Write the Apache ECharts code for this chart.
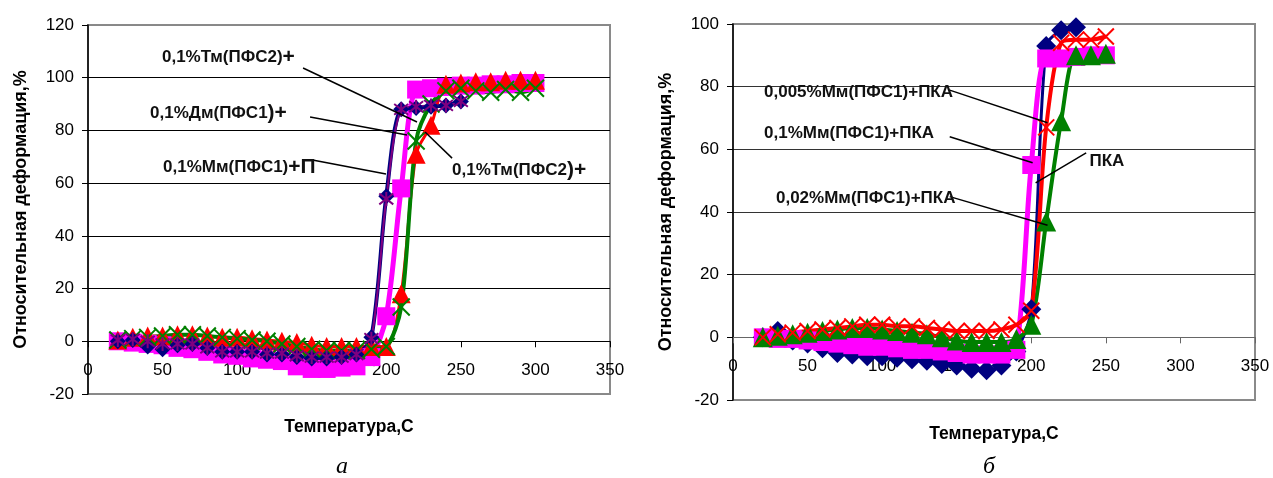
<!DOCTYPE html>
<html>
<head>
<meta charset="utf-8">
<script src="https://cdn.jsdelivr.net/npm/echarts@6/dist/echarts.min.js"></script>
<style>
html,body{margin:0;padding:0;background:#fff;}
#chart{width:1273px;height:478px;}
</style>
</head>
<body>
<div id="chart"></div>
<script>
// ---- Panel а: temperature, °C ----
const tempsA = [20,30,40,50,60,70,80,90,100,110,120,130,140,150,160,170,180,190,200,210,220,230,240,250,260,270,280,290,300];
const tempsA250 = [20,30,40,50,60,70,80,90,100,110,120,130,140,150,160,170,180,190,200,210,220,230,240,250];
// relative deformation, %
const aNavy    = [0,0.5,-2,-3,-1.5,-1,-2.5,-4,-4,-4,-5,-5,-6,-6.5,-6.5,-6,-5,1.5,55,88,88.5,89,89.5,91];
const aPurple  = [0.5,0.8,0,-1,-1,-1,-2.5,-4,-4,-4,-4.5,-4.5,-5.5,-6,-6,-6,-5,1,54,88,89,89.5,89.5,91];
const aMagenta = [0,-0.5,-1,-1.5,-2.5,-3,-4,-5,-5.5,-6.5,-7,-7.5,-9.5,-10.5,-10.5,-10,-9.5,-6,9.5,58,95.5,96,96.5,97,97,97.5,97.5,98,98];
const aRed     = [0.5,1.5,2,2,2.5,2.5,2,1.5,1.5,1,0.5,0,-0.5,-1.5,-2,-2,-2,-2,-2,18,71,82,97.5,98,98.5,98.5,99,99,99];
const aGreen   = [0.5,1,1.5,2,2.5,2.5,2,1.5,1,0.5,0,-1,-2,-3,-3.5,-3.5,-3.5,-3,-2,13,76,90,95,96,95,94.5,95.5,94.5,96];

// ---- Panel б ----
const tempsB230 = [20,30,40,50,60,70,80,90,100,110,120,130,140,150,160,170,180,190,200,210,220,230];
const tempsB250 = [20,30,40,50,60,70,80,90,100,110,120,130,140,150,160,170,180,190,200,210,220,230,240,250];
const bNavy    = [0,2,-1,-2,-3.5,-5,-5.5,-6,-6,-6.5,-7,-7.5,-8.5,-9,-10,-10.5,-9,-4.5,9,93,98,99];
const bMagenta = [0,-0.5,-0.5,-1,-1.5,-2,-2.5,-3,-3,-3.5,-4,-4,-4.5,-5,-5.5,-5.5,-5.5,-4,55,89,89,89.5,90,90];
const bRed     = [0,1,1.5,2,2.5,3,3.5,4,4,3.5,3.5,3,2.5,2,2,2,2.5,4,8.5,67,94,95,95,96];
const bGreen   = [0,0.5,1,1.5,2,2.5,3,3,2.5,2,1.5,1,0,-1,-1.5,-1.5,-1.5,-0.5,4,37,69,90,90,90.5];

// axis ticks
const xTicks = {min:0, max:350, step:50};
const yTicksA = {min:-20, max:120, step:20};
const yTicksB = {min:-20, max:100, step:20};

// callouts: text, text anchor [t,v], leader line [t,v] -> [t,v]
const calloutsA = [
  {text:'{n|0,1%Тм(ПФС2)}{p|+}',  at:[49.6,107.9], from:[144.2,103.7], to:[220.6,83.2]},
  {text:'{n|0,1%Дм(ПФС1}{p|)+}',  at:[41.6,86.6],  from:[148.9,85.1],  to:[213.9,78.3]},
  {text:'{n|0,1%Мм(ПФС1)}{p|+П}', at:[50.3,66.1],  from:[150.5,68.8],  to:[199.8,63.5]},
  {text:'{n|0,1%Тм(ПФС2}{p|)+}',  at:[244.1,65.0], from:[244.1,69.5],  to:[226.0,79.4]}
];
const calloutsB = [
  {text:'{n|0,005%Мм(ПФС1)+ПКА}', at:[20.8,78.3], from:[145.3,78.9], to:[210.9,68.5]},
  {text:'{n|0,1%Мм(ПФС1)+ПКА}',   at:[20.8,65.2], from:[145.3,64.0], to:[200.9,55.7]},
  {text:'{n|ПКА}',                at:[239.0,56.2], from:[236.8,58.9], to:[202.9,49.3]},
  {text:'{n|0,02%Мм(ПФС1)+ПКА}',  at:[28.8,44.5], from:[145.3,44.9], to:[210.9,35.8]}
];

const SANS = '"Liberation Sans", Arial, sans-serif';
const pairs = (xs, ys) => ys.map((v, i) => [xs[i], v]);
const ASTERISK = 'path://M0,0L10,10M10,0L0,10M5,-1.5L5,11.5';
const CROSS = 'path://M0,0L10,10M10,0L0,10';

const gridA = {left:88, top:25, width:522, height:369};
const gridB = {left:733, top:24, width:522, height:376};

// the temperature axis sits on the zero line: shift it up from the plot bottom
const zeroShift = (g, t) => g.height * (0 - t.min) / (t.max - t.min);

function xAxisFor(grid, g, t, gap, labelMargin, lineColor) {
  return {
    type:'value', gridIndex:grid, min:xTicks.min, max:xTicks.max, interval:xTicks.step,
    position:'bottom', offset:-zeroShift(g, t),
    axisLine:{show:true, onZero:false, lineStyle:{color:lineColor, width:1}},
    axisTick:{show:true, inside:false, length:6, lineStyle:{color:lineColor}},
    axisLabel:{color:'#000', fontFamily:SANS, fontSize:17, margin:labelMargin},
    splitLine:{show:false},
    name:'Температура,С', nameLocation:'middle', nameGap:gap,
    nameTextStyle:{color:'#000', fontFamily:SANS, fontSize:17.5, fontWeight:'bold'}
  };
}
function yAxisFor(grid, t, gap, gridColors) {
  return {
    type:'value', gridIndex:grid, min:t.min, max:t.max, interval:t.step,
    axisLine:{show:true, onZero:false, lineStyle:{color:'#000', width:1.5}},
    axisTick:{show:true, inside:false, length:6, lineStyle:{color:'#000'}},
    axisLabel:{color:'#000', fontFamily:SANS, fontSize:17, margin:14},
    splitLine:{show:true, lineStyle:{color:gridColors, width:1}},
    name:'Относительная деформация,%', nameLocation:'middle', nameGap:gap, nameRotate:90,
    nameTextStyle:{color:'#000', fontFamily:SANS, fontSize:18, fontWeight:'bold'}
  };
}
function lineSeries(name, data, grid, color, lw, symbol, size, opts) {
  return Object.assign({
    type:'line', name, data, xAxisIndex:grid, yAxisIndex:grid,
    smooth:0.3, symbol, symbolSize:size, showAllSymbol:true,
    lineStyle:{color, width:lw},
    itemStyle:{color, borderColor:color, borderWidth:0},
    emphasis:{disabled:true}
  }, opts || {});
}

const option = {
  animation:false,
  backgroundColor:'#fff',
  grid:[
    Object.assign({show:true, borderColor:'#8a8a8a', borderWidth:2, backgroundColor:'#fff', outerBoundsMode:'none', containLabel:false}, gridA),
    Object.assign({show:true, borderColor:'#8a8a8a', borderWidth:2, backgroundColor:'#fff', outerBoundsMode:'none', containLabel:false}, gridB)
  ],
  xAxis:[ xAxisFor(0, gridA, yTicksA, 77, 21, '#000'), xAxisFor(1, gridB, yTicksB, 88, 20, '#666') ],
  yAxis:[
    yAxisFor(0, yTicksA, 58, ['#888','#000','#000','#000','#000','#000','#000','#888']),
    yAxisFor(1, yTicksB, 58, ['#888','#333','#333','#333','#333','#333','#888'])
  ],
  series:[
    // panel а
    lineSeries('0,1%Тм(ПФС2)+ м', pairs(tempsA, aMagenta), 0, '#ff00ff', 5, 'rect', 18),
    lineSeries('0,1%Тм(ПФС2)+ т', pairs(tempsA, aRed), 0, '#ff0000', 3, 'triangle', 19),
    lineSeries('0,1%Дм(ПФС1)+', pairs(tempsA, aGreen), 0, '#008000', 4, CROSS, 17,
      {itemStyle:{color:'#008000', borderColor:'#008000', borderWidth:2}}),
    lineSeries('0,1%Мм(ПФС1)+П', pairs(tempsA250, aNavy), 0, '#000080', 4, 'diamond', 16),
    lineSeries('0,1%Мм(ПФС1)+П *', pairs(tempsA250, aPurple), 0, '#800080', 2, ASTERISK, 14,
      {itemStyle:{color:'#800080', borderColor:'#800080', borderWidth:2}}),
    // panel б
    lineSeries('ПКА', pairs(tempsB230, bNavy), 1, '#000080', 3, 'diamond', 20),
    lineSeries('0,1%Мм(ПФС1)+ПКА', pairs(tempsB250, bMagenta), 1, '#ff00ff', 5, 'rect', 18),
    lineSeries('0,02%Мм(ПФС1)+ПКА', pairs(tempsB250, bGreen), 1, '#008000', 4, 'triangle', 20),
    lineSeries('0,005%Мм(ПФС1)+ПКА', pairs(tempsB250, bRed), 1, '#ff0000', 4, CROSS, 16,
      {itemStyle:{color:'#ff0000', borderColor:'#ff0000', borderWidth:2}})
  ]
};

const chart = echarts.init(document.getElementById('chart'), null, {renderer:'canvas'});
chart.setOption(option);

// callout texts and leader lines, anchored in data coordinates
const rich = {
  n:{fontFamily:SANS, fontSize:17, fontWeight:'bold', fill:'#111'},
  p:{fontFamily:SANS, fontSize:21, fontWeight:'bold', fill:'#111'}
};
const graphics = [];
[[0, calloutsA], [1, calloutsB]].forEach(([g, list]) => {
  list.forEach(c => {
    const a = chart.convertToPixel({gridIndex:g}, c.at);
    const p1 = chart.convertToPixel({gridIndex:g}, c.from);
    const p2 = chart.convertToPixel({gridIndex:g}, c.to);
    graphics.push({type:'line', z:50, shape:{x1:p1[0], y1:p1[1], x2:p2[0], y2:p2[1]},
      style:{stroke:'#000', lineWidth:1.5}});
    graphics.push({type:'text', z:51, x:a[0], y:a[1],
      style:{text:c.text, rich, align:'left', verticalAlign:'middle', fill:'#111'}});
  });
});
// panel letters
graphics.push({type:'text', x:342, y:467, style:{text:'а', font:'italic 24px "Liberation Serif", "Times New Roman", serif', fill:'#000', align:'center', verticalAlign:'middle'}});
graphics.push({type:'text', x:989, y:467, style:{text:'б', font:'italic 24px "Liberation Serif", "Times New Roman", serif', fill:'#000', align:'center', verticalAlign:'middle'}});
chart.setOption({graphic:graphics});
</script>
</body>
</html>
